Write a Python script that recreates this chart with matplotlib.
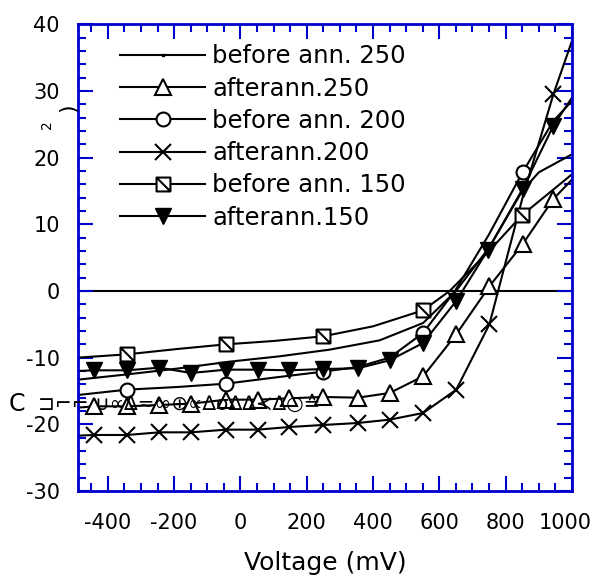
import matplotlib
matplotlib.use("Agg")
import matplotlib.pyplot as plt
import matplotlib.transforms as mtransforms
from matplotlib.lines import Line2D
from matplotlib.path import Path

plt.rcParams['font.family'] = ['DejaVu Sans']
plt.rcParams['axes.unicode_minus'] = False

# before ann. 250 (no visible markers)
x_b250 = [-490, -340, -184, -33, 118, 269, 420, 551, 650, 750, 850, 900, 1000]
y_b250 = [-13.3, -12.5, -11.6, -10.6, -9.8, -8.8, -7.4, -4.8, 0.0, 6.5, 15.0, 17.8, 20.5]

# after ann. 250 (open triangles)
x_a250 = [-490, -441, -342, -245, -149, -43, 52, 148, 249, 354, 450, 551, 651, 751, 851, 944, 1000]
y_a250 = [-17.5, -17.3, -17.3, -17.1, -16.9, -16.3, -16.3, -16.1, -15.9, -16.0, -15.3, -12.8,
          -6.5, 0.7, 7.0, 13.8, 16.7]

# before ann. 200 (circles)
x_b200 = [-490, -342, -190, -43, 100, 249, 354, 450, 551, 647, 750, 851, 944, 1000]
y_b200 = [-15.6, -14.8, -14.4, -13.9, -13.0, -12.1, -11.4, -10.0, -6.3, 0.0, 8.5, 17.8, 25.5, 28.5]

# after ann. 200 (crosses)
x_a200 = [-490, -441, -342, -245, -149, -43, 52, 148, 249, 354, 450, 551, 651, 751, 851, 944, 1000]
y_a200 = [-21.7, -21.6, -21.6, -21.2, -21.2, -20.8, -20.8, -20.4, -20.1, -19.8, -19.3, -18.3,
          -14.8, -5.0, 14.0, 29.5, 37.5]

# before ann. 150 (crossed squares)
x_b150 = [-490, -342, -190, -43, 100, 249, 400, 551, 631, 750, 850, 1000]
y_b150 = [-10.0, -9.5, -8.7, -8.0, -7.5, -6.8, -5.3, -2.9, 0.0, 6.0, 11.4, 17.5]

# after ann. 150 (filled down triangles)
x_a150 = [-490, -441, -342, -245, -149, -43, 52, 148, 249, 354, 450, 551, 651, 747, 851, 944, 1000]
y_a150 = [-12.0, -11.9, -11.9, -11.5, -12.3, -11.8, -11.8, -11.9, -11.7, -11.6, -10.4, -7.8,
          -1.5, 6.2, 15.3, 24.8, 29.0]

labels = ['before ann. 250', 'afterann.250', 'before ann. 200',
          'afterann.200', 'before ann. 150', 'afterann.150']

x_ticks = [-400, -200, 0, 200, 400, 600, 800, 1000]
x_minor = list(range(-450, 1001, 50))
y_ticks = [-30, -20, -10, 0, 10, 20, 30, 40]
y_minor = list(range(-30, 41, 2))

# square with a diagonal stroke
sq_diag = Path([(-1, -1), (1, -1), (1, 1), (-1, 1), (-1, -1), (-1, 1), (1, -1)],
               [Path.MOVETO, Path.LINETO, Path.LINETO, Path.LINETO, Path.CLOSEPOLY,
                Path.MOVETO, Path.LINETO])

styles = [
    dict(marker='s', ms=2, mfc='black'),
    dict(marker='^', ms=11, mfc='white', mew=1.5),
    dict(marker='o', ms=10, mfc='white', mew=1.5),
    dict(marker='x', ms=11, mew=1.5),
    dict(marker=sq_diag, ms=10, mfc='white', mew=1.5),
    dict(marker='v', ms=11, mfc='black'),
]

fig = plt.figure(figsize=(5.93, 5.79), dpi=100)
ax = fig.add_axes([0.1315, 0.152, 0.833, 0.806])

ax.axhline(0, color='black', lw=1.5, zorder=1)

lw = 1.5
ax.plot(x_b250, y_b250, color='black', lw=lw, **styles[0], markevery=[])
ax.plot(x_a250, y_a250, color='black', lw=lw, **styles[1], markevery=list(range(1, 16)))
ax.plot(x_b200, y_b200, color='black', lw=lw, **styles[2], markevery=[1, 3, 5, 8, 11])
ax.plot(x_a200, y_a200, color='black', lw=lw, **styles[3],
        markevery=list(range(1, 14)) + [15])
ax.plot(x_b150, y_b150, color='black', lw=lw, **styles[4], markevery=[1, 3, 5, 7, 10])
ax.plot(x_a150, y_a150, color='black', lw=lw, **styles[5], markevery=list(range(1, 16)))

ax.set_xlim(-490, 1000)
ax.set_ylim(-30, 40)
ax.set_xticks(x_ticks, [str(v) for v in x_ticks], fontsize=15)
ax.set_xticks(x_minor, minor=True)
ax.set_yticks(y_ticks, [str(v) for v in y_ticks], fontsize=15)
ax.set_yticks(y_minor, minor=True)

blue = '#0000cc'
for s in ax.spines.values():
    s.set_color(blue)
    s.set_linewidth(2)
ax.tick_params(which='both', direction='in', top=True, right=True, color=blue,
               labelcolor='black', width=1.5)
ax.tick_params(which='major', length=11)
ax.tick_params(which='minor', length=6)
ax.tick_params(axis='x', which='major', pad=16)
ax.tick_params(axis='y', which='major', pad=13)

# the last x label sits a bit to the left in the original
for t in ax.get_xticklabels():
    if t.get_text() == '1000':
        t.set_transform(t.get_transform() +
                        mtransforms.ScaledTranslation(-7 / 100, 0, fig.dpi_scale_trans))

ax.set_xlabel('Voltage (mV)', fontsize=18, labelpad=13)

# broken y label pieces as they appear in the figure
fig.text(17 / 593, 1 - 404 / 579, 'C', fontsize=17, ha='center', va='center')
fig.text(38 / 593, 1 - 404 / 579, '⊐⌐⌐ ∪∝∆≂∞⊕∝∆σ∆∆≺∆○≙', fontsize=14.5,
         ha='left', va='center')
fig.text(47 / 593, 1 - 125 / 579, '2', fontsize=10, rotation=90, ha='center', va='center')
fig.text(68 / 593, 1 - 108 / 579, ')', fontsize=16, rotation=90, ha='center', va='center')

handles = [Line2D([], [], color='black', lw=lw, **st) for st in styles]
ax.legend(handles, labels, loc='upper left', bbox_to_anchor=(0.085, 0.957), frameon=False,
          fontsize=17.5, handlelength=3.5, handletextpad=0.3, labelspacing=0.34,
          numpoints=1, borderpad=0, borderaxespad=0)

fig.savefig('out.png', dpi=100)
